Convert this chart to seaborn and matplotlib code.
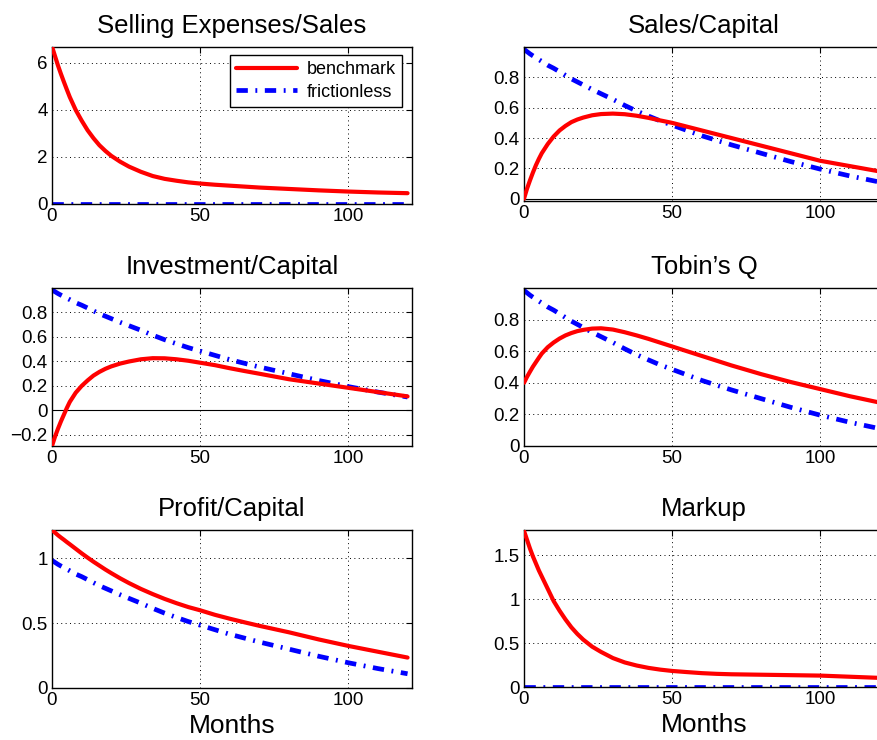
import numpy as np
import pandas as pd
import matplotlib
matplotlib.use("Agg")
import matplotlib.pyplot as plt
import seaborn as sns
from matplotlib.ticker import FuncFormatter

# ==================================================================================================

# Месяцы (ось X)
months = [0, 1, 2, 3, 4, 5, 6, 8, 10, 12, 14, 16, 18, 20, 23, 26, 30, 34, 38, 42, 46, 50,
          55, 60, 65, 70, 80, 90, 100, 110, 120]

# Selling Expenses/Sales
sell_bench = [6.7, 6.3, 5.9, 5.54, 5.2, 4.87, 4.55, 4.0, 3.55, 3.14, 2.8, 2.5, 2.26, 2.05, 1.8,
              1.59, 1.37, 1.19, 1.07, 0.99, 0.92, 0.87, 0.82, 0.78, 0.74, 0.7, 0.64, 0.58, 0.53,
              0.49, 0.46]
sell_fric = [0.0] * len(months)

# Sales/Capital
sales_bench = [0.0, 0.065, 0.12, 0.172, 0.22, 0.262, 0.30, 0.36, 0.41, 0.45, 0.48, 0.505, 0.522,
               0.535, 0.55, 0.558, 0.561, 0.557, 0.547, 0.533, 0.516, 0.50, 0.475, 0.45, 0.425,
               0.40, 0.35, 0.30, 0.25, 0.215, 0.18]

# Investment/Capital
inv_bench = [-0.29, -0.215, -0.15, -0.09, -0.035, 0.02, 0.07, 0.145, 0.2, 0.245, 0.285, 0.315,
             0.34, 0.36, 0.383, 0.40, 0.418, 0.427, 0.426, 0.418, 0.406, 0.39, 0.37, 0.345,
             0.322, 0.30, 0.255, 0.22, 0.185, 0.15, 0.115]

# Tobin's Q
q_bench = [0.40, 0.437, 0.47, 0.502, 0.53, 0.558, 0.585, 0.625, 0.655, 0.68, 0.70, 0.715, 0.727,
           0.735, 0.743, 0.745, 0.737, 0.72, 0.70, 0.678, 0.654, 0.63, 0.60, 0.57, 0.54, 0.51,
           0.455, 0.405, 0.36, 0.315, 0.275]

# Profit/Capital
profit_bench = [1.22, 1.20, 1.18, 1.162, 1.145, 1.127, 1.11, 1.075, 1.04, 1.007, 0.975, 0.945,
                0.915, 0.887, 0.847, 0.81, 0.765, 0.725, 0.688, 0.655, 0.625, 0.60, 0.565, 0.535,
                0.507, 0.48, 0.43, 0.375, 0.325, 0.28, 0.235]

# frictionless — одна и та же кривая для Sales/Capital, Investment/Capital, Tobin's Q, Profit/Capital
fric_decay = [0.985, 0.97, 0.955, 0.942, 0.93, 0.917, 0.905, 0.88, 0.86, 0.837, 0.813, 0.79,
              0.77, 0.75, 0.72, 0.692, 0.655, 0.615, 0.578, 0.545, 0.513, 0.485, 0.45, 0.415,
              0.385, 0.355, 0.30, 0.245, 0.195, 0.15, 0.11]

# Markup
markup_bench = [1.78, 1.68, 1.58, 1.49, 1.41, 1.33, 1.26, 1.12, 0.98, 0.87, 0.77, 0.68, 0.605,
                0.54, 0.46, 0.40, 0.33, 0.28, 0.245, 0.218, 0.198, 0.183, 0.17, 0.158, 0.15,
                0.145, 0.14, 0.135, 0.13, 0.117, 0.104]
markup_fric = [0.0] * len(months)

titles = ["Selling Expenses/Sales", "Sales/Capital", "Investment/Capital",
          "Tobin\u2019s Q", "Profit/Capital", "Markup"]

# ==================================================================================================

sns.set_style("white")
plt.rcParams['font.family'] = ['Liberation Sans', 'DejaVu Sans']
plt.rcParams['text.color'] = 'black'
plt.rcParams['axes.labelcolor'] = 'black'

fig = plt.figure(figsize=(8.78, 7.4), dpi=100)
W, H = 878, 740


def px_axes(left, top, right, bottom):
    return fig.add_axes([left / W, 1 - bottom / H, (right - left) / W, (bottom - top) / H])


axes = [
    px_axes(52, 47, 412, 204),
    px_axes(524, 47, 884, 201),
    px_axes(52, 288, 412, 446),
    px_axes(524, 288, 884, 446),
    px_axes(52, 530, 412, 688),
    px_axes(524, 530, 884, 687),
]

panels = [
    (sell_bench, sell_fric, (0, 6.68), [0, 2, 4, 6]),
    (sales_bench, fric_decay, (-0.015, 1.0), [0, 0.2, 0.4, 0.6, 0.8]),
    (inv_bench, fric_decay, (-0.29, 1.0), [-0.2, 0, 0.2, 0.4, 0.6, 0.8]),
    (q_bench, fric_decay, (0, 1.0), [0, 0.2, 0.4, 0.6, 0.8]),
    (profit_bench, fric_decay, (0, 1.22), [0, 0.5, 1]),
    (markup_bench, markup_fric, (0, 1.79), [0, 0.5, 1, 1.5]),
]

fmt = FuncFormatter(lambda v, p: ('%g' % v).replace('-', '\u2212'))
dashdot = (0, (2.4, 1.6, 0.4, 1.6))

for i, (ax, (bench, fric, ylim, yticks)) in enumerate(zip(axes, panels)):
    df = pd.DataFrame({"month": months, "benchmark": bench, "frictionless": fric})
    if i in (1, 2):
        ax.axhline(0, color='black', lw=0.8, zorder=1)
    sns.lineplot(data=df, x="month", y="benchmark", ax=ax, color=(1, 0, 0), lw=3,
                 errorbar=None, label="benchmark" if i == 0 else None, zorder=3)
    sns.lineplot(data=df, x="month", y="frictionless", ax=ax, color=(0, 0, 1), lw=3.4,
                 linestyle=dashdot, errorbar=None,
                 label="frictionless" if i == 0 else None, zorder=2)
    ax.set_xlim(0, 121.5)
    ax.set_ylim(*ylim)
    ax.set_xticks([0, 50, 100])
    ax.set_yticks(yticks)
    ax.yaxis.set_major_formatter(fmt)
    ax.grid(True, linestyle=(0, (1, 3.5)), color='black', lw=0.7)
    ax.tick_params(direction='in', length=4, width=0.8, labelsize=13.5, top=True, right=True,
                   colors='black', pad=3)
    for s in ax.spines.values():
        s.set_color('black')
        s.set_linewidth(1.0)
    ax.set_title(titles[i], fontsize=18.5, pad=10)
    ax.set_ylabel("")
    ax.set_xlabel("Months" if i >= 4 else "", fontsize=19, labelpad=3.5)

leg = axes[0].legend(loc='upper right', fontsize=13, handlelength=3.4, frameon=True,
                     fancybox=False, framealpha=1, edgecolor='black', borderpad=0.35,
                     labelspacing=0.3, handletextpad=0.5, borderaxespad=0,
                     bbox_to_anchor=(0.972, 0.95))
leg.get_frame().set_linewidth(1.0)

fig.savefig("out.png", dpi=100)
